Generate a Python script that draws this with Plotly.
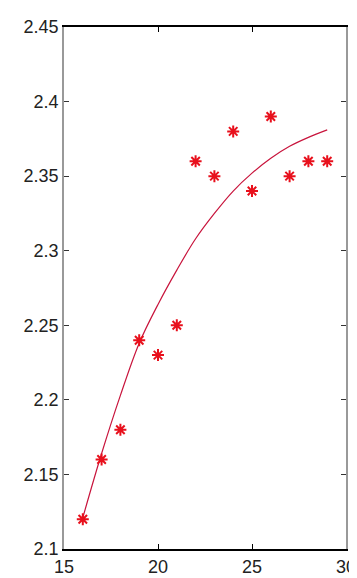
import plotly.graph_objects as go

# observed data (red asterisks)
x_obs = [16, 17, 18, 19, 20, 21, 22, 23, 24, 25, 26, 27, 28, 29]
y_obs = [2.12, 2.16, 2.18, 2.24, 2.23, 2.25, 2.36, 2.35, 2.38, 2.34, 2.39, 2.35, 2.36, 2.36]

# fitted curve values
x_fit = [16, 17, 18, 19, 20, 21, 22, 23, 24, 25, 26, 27, 28, 29]
y_fit = [2.121, 2.164, 2.203, 2.238, 2.264, 2.287, 2.308, 2.325, 2.340, 2.352, 2.362, 2.370, 2.376, 2.381]

x_ticks = [15, 20, 25, 30]
y_ticks = [2.1, 2.15, 2.2, 2.25, 2.3, 2.35, 2.4, 2.45]
y_tick_text = ["2.1", "2.15", "2.2", "2.25", "2.3", "2.35", "2.4", "2.45"]

fig = go.Figure()
fig.add_trace(go.Scatter(
    x=x_fit, y=y_fit, mode="lines", line=dict(color="#c8143c", width=1.2, shape="spline"),
    hoverinfo="skip", showlegend=False))
fig.add_trace(go.Scatter(
    x=x_obs, y=y_obs, mode="markers",
    marker=dict(symbol="asterisk-open", size=10, color="#e8101c",
                line=dict(color="#e8101c", width=2)),
    showlegend=False))

font = dict(family="Liberation Sans, Arial, sans-serif", size=18, color="#222222")
fig.update_layout(
    width=357, height=578,
    margin=dict(l=56, r=9, t=16, b=30),
    paper_bgcolor="white", plot_bgcolor="white",
    font=font,
    xaxis=dict(range=[15, 30], tickvals=x_ticks, ticks="inside", ticklen=5,
               tickcolor="black", showline=True, linecolor="black", linewidth=2,
               mirror="ticks", showgrid=False, zeroline=False, tickfont=font),
    yaxis=dict(range=[2.1, 2.45], tickvals=y_ticks, ticktext=y_tick_text,
               ticks="inside", ticklen=5, tickcolor="#333333",
               showline=True, linecolor="#999999", linewidth=1.5,
               mirror="ticks", showgrid=False, zeroline=False, tickfont=font),
)
fig.write_html("out.html")
